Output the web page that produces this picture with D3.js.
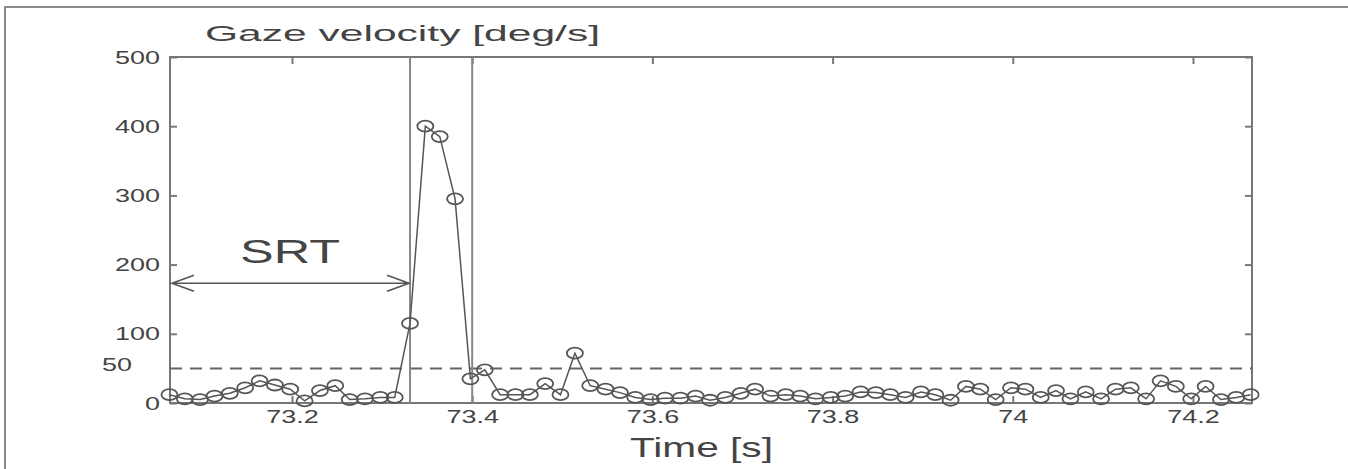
<!DOCTYPE html>
<html>
<head>
<meta charset="utf-8">
<script src="https://cdn.jsdelivr.net/npm/d3@7"></script>
<style>
  body { margin: 0; background: #fff; }
  svg { display: block; }
  text { font-family: "Liberation Sans", Arial, sans-serif; fill: #444; }
</style>
</head>
<body>
<svg width="1348" height="469"></svg>
<script>
// sample times [s] (60 Hz) and gaze velocity [deg/s]
const times = [
  73.064, 73.081, 73.098, 73.114, 73.131, 73.148, 73.164, 73.181, 73.198, 73.214,
  73.231, 73.248, 73.264, 73.281, 73.298, 73.314, 73.331, 73.348, 73.364, 73.381,
  73.398, 73.414, 73.431, 73.448, 73.464, 73.481, 73.498, 73.514, 73.531, 73.548,
  73.564, 73.581, 73.598, 73.614, 73.631, 73.648, 73.664, 73.681, 73.698, 73.714,
  73.731, 73.748, 73.764, 73.781, 73.798, 73.814, 73.831, 73.848, 73.864, 73.881,
  73.898, 73.914, 73.931, 73.948, 73.964, 73.981, 73.998, 74.014, 74.031, 74.048,
  74.064, 74.081, 74.098, 74.114, 74.131, 74.148, 74.164, 74.181, 74.198, 74.214,
  74.231, 74.248, 74.264
];
const velocity = [
  12, 6, 5, 10, 14, 22, 32, 26, 20, 3,
  18, 25, 5, 6, 8, 8, 115, 400, 385, 295,
  35, 48, 12, 12, 12, 28, 12, 72, 25, 20,
  15, 8, 5, 7, 7, 10, 4, 8, 14, 20,
  10, 12, 10, 6, 8, 10, 16, 15, 12, 8,
  16, 12, 4, 24, 20, 5, 22, 20, 8, 18,
  6, 16, 6, 20, 22, 6, 32, 24, 6, 24,
  5, 8, 12
];
const xTicks = [73.2, 73.4, 73.6, 73.8, 74, 74.2];
const yTicks = [0, 100, 200, 300, 400, 500];
const threshold = 50;
const saccadeLines = [73.331, 73.4];   // saccade onset / end
const srtLevel = 173;

const box = { left: 170, top: 57, right: 1252, bottom: 403 };
const stretch = 1.42;   // the picture is wider than its glyphs

const svg = d3.select("svg");

// outer figure edge (top and left only)
svg.append("path")
    .attr("d", "M5,469V7H1348")
    .attr("fill", "none")
    .attr("stroke", "#8a8a8a")
    .attr("stroke-width", 2);

const x = d3.scaleLinear()
    .domain([73.0646, 74.2655])
    .range([box.left, box.right]);

const y = d3.scaleLinear()
    .domain([0, 500])
    .range([box.bottom, box.top]);

function stretchText(sel) {
    sel.each(function() {
        const w = this.getComputedTextLength();
        d3.select(this)
            .attr("textLength", w * stretch)
            .attr("lengthAdjust", "spacingAndGlyphs");
    });
}

// axes, MATLAB style: ticks point inward on all four sides
svg.append("g")
    .attr("transform", "translate(0," + box.bottom + ")")
    .call(d3.axisBottom(x).tickValues(xTicks).tickFormat(d3.format("")).tickSize(-7).tickSizeOuter(0).tickPadding(7));

svg.append("g")
    .attr("transform", "translate(0," + box.top + ")")
    .call(d3.axisTop(x).tickValues(xTicks).tickFormat("").tickSize(-7).tickSizeOuter(0));

svg.append("g")
    .attr("transform", "translate(" + box.left + ",0)")
    .call(d3.axisLeft(y).tickValues(yTicks).tickSize(-7).tickSizeOuter(0).tickPadding(10));

svg.append("g")
    .attr("transform", "translate(" + box.right + ",0)")
    .call(d3.axisRight(y).tickValues(yTicks).tickFormat("").tickSize(-7).tickSizeOuter(0));

svg.selectAll(".domain").remove();
svg.selectAll(".tick line").attr("stroke", "#777").attr("stroke-width", 2);
svg.selectAll(".tick text")
    .style("font-size", "19px")
    .style("font-family", "'Liberation Sans', Arial, sans-serif")
    .attr("fill", "#444")
    .call(stretchText);

// plot box
svg.append("rect")
    .attr("x", box.left)
    .attr("y", box.top)
    .attr("width", box.right - box.left)
    .attr("height", box.bottom - box.top)
    .attr("fill", "none")
    .attr("stroke", "#777")
    .attr("stroke-width", 2);

// threshold line at 50 deg/s
svg.append("line")
    .attr("x1", box.left).attr("x2", box.right)
    .attr("y1", y(threshold)).attr("y2", y(threshold))
    .attr("stroke", "#666")
    .attr("stroke-width", 2)
    .attr("stroke-dasharray", "12,8");

svg.append("text")
    .attr("x", 102)
    .attr("y", y(threshold) + 3)
    .style("font-size", "19px")
    .text("50")
    .call(stretchText);

// saccade onset and end markers
svg.selectAll(".vline")
    .data(saccadeLines)
    .enter()
    .append("line")
    .attr("class", "vline")
    .attr("x1", d => x(d)).attr("x2", d => x(d))
    .attr("y1", box.top).attr("y2", box.bottom)
    .attr("stroke", "#888")
    .attr("stroke-width", 2);

// velocity trace
const pts = times.map((t, i) => ({ t: t, v: velocity[i] }));

svg.append("path")
    .datum(pts)
    .attr("fill", "none")
    .attr("stroke", "#555")
    .attr("stroke-width", 1.5)
    .attr("d", d3.line().x(d => x(d.t)).y(d => y(d.v)));

svg.selectAll(".pt")
    .data(pts)
    .enter()
    .append("ellipse")
    .attr("class", "pt")
    .attr("cx", d => x(d.t))
    .attr("cy", d => y(d.v))
    .attr("rx", 8)
    .attr("ry", 5.5)
    .attr("fill", "none")
    .attr("stroke", "#555")
    .attr("stroke-width", 1.8);

// SRT double arrow, from plot start to saccade onset
const ax0 = box.left + 2, ax1 = x(saccadeLines[0]) - 1, ay = y(srtLevel);
svg.append("path")
    .attr("d", "M" + ax0 + "," + ay + "H" + ax1 +
        "M" + (ax0 + 22) + "," + (ay - 8) + "L" + ax0 + "," + ay + "L" + (ax0 + 22) + "," + (ay + 8) +
        "M" + (ax1 - 22) + "," + (ay - 8) + "L" + ax1 + "," + ay + "L" + (ax1 - 22) + "," + (ay + 8))
    .attr("fill", "none")
    .attr("stroke", "#555")
    .attr("stroke-width", 1.6);

svg.append("text")
    .attr("x", 240)
    .attr("y", 263)
    .style("font-size", "34px")
    .attr("textLength", 100)
    .attr("lengthAdjust", "spacingAndGlyphs")
    .text("SRT");

// title and x label
svg.append("text")
    .attr("x", 205)
    .attr("y", 41)
    .style("font-size", "22px")
    .attr("textLength", 395)
    .attr("lengthAdjust", "spacingAndGlyphs")
    .text("Gaze velocity [deg/s]");

svg.append("text")
    .attr("x", 630)
    .attr("y", 457)
    .style("font-size", "28px")
    .attr("textLength", 143)
    .attr("lengthAdjust", "spacingAndGlyphs")
    .text("Time [s]");
</script>
</body>
</html>
